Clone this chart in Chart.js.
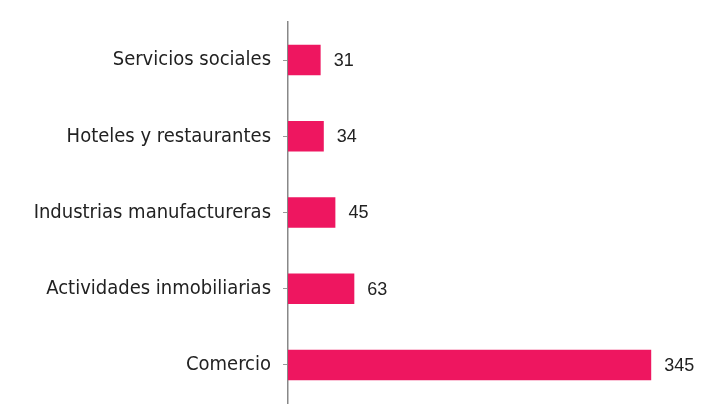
<!DOCTYPE html>
<html>
<head>
<meta charset="utf-8">
<script src="https://cdn.jsdelivr.net/npm/chart.js@4"></script>
<style>
  body { margin: 0; background: #fff; overflow: hidden; }
</style>
</head>
<body>
<canvas id="chart" width="704" height="410"></canvas>
<script>
const categories = ["Servicios sociales", "Hoteles y restaurantes", "Industrias manufactureras", "Actividades inmobiliarias", "Comercio"];
const values = [31, 34, 45, 63, 345];

const FONT = "'DejaVu Sans Condensed', 'Liberation Sans', sans-serif";

// numbers next to each bar
const valueLabels = {
  id: "valueLabels",
  afterDatasetsDraw(chart) {
    const ctx = chart.ctx;
    const meta = chart.getDatasetMeta(0);
    ctx.save();
    ctx.font = "18px 'Liberation Sans', sans-serif";
    ctx.fillStyle = "#222";
    ctx.textBaseline = "middle";
    ctx.textAlign = "left";
    meta.data.forEach((bar, i) => {
      ctx.fillText(values[i], bar.x + 13, bar.y + 1);
    });
    ctx.restore();
  }
};

new Chart(document.getElementById("chart"), {
  type: "bar",
  data: {
    labels: categories,
    datasets: [{
      data: values,
      backgroundColor: "#ee1660",
      barPercentage: 0.8,
      categoryPercentage: 0.5
    }]
  },
  options: {
    indexAxis: "y",
    responsive: false,
    animation: false,
    layout: { padding: { top: 22, bottom: 7, left: 0, right: 37 } },
    plugins: { legend: { display: false }, tooltip: { enabled: false } },
    scales: {
      x: {
        display: false,
        min: 0,
        max: 360
      },
      y: {
        afterFit(scale) {
          scale.width = 288;
          scale.paddingTop = 0;
          scale.paddingBottom = 0;
        },
        grid: { offset: false, drawOnChartArea: false, tickLength: 5, color: "#999" },
        border: { color: "#888", width: 1.5 },
        ticks: { color: "#222", padding: 12, font: { family: FONT, size: 20 } }
      }
    }
  },
  plugins: [valueLabels]
});
</script>
</body>
</html>
